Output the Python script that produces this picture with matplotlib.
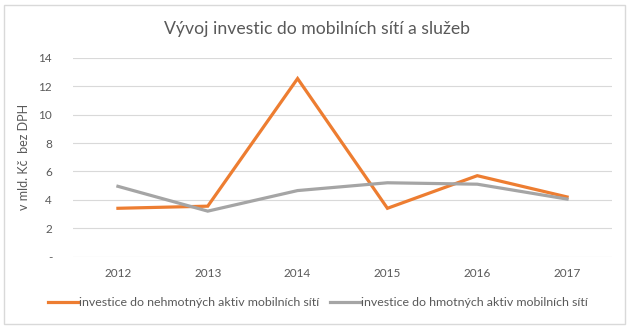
import matplotlib
matplotlib.use("Agg")
import matplotlib.pyplot as plt
from matplotlib.patches import Rectangle

years = ["2012", "2013", "2014", "2015", "2016", "2017"]
nehmotna = [3.4, 3.55, 12.55, 3.4, 5.7, 4.2]
hmotna = [4.95, 3.2, 4.65, 5.2, 5.1, 4.05]
yticks = [0, 2, 4, 6, 8, 10, 12, 14]
yticklabels = ["-", "2", "4", "6", "8", "10", "12", "14"]
title = "Vývoj investic do mobilních sítí a služeb"
ylabel = "v mld. Kč  bez DPH"
label_n = "investice do nehmotných aktiv mobilních sítí"
label_h = "investice do hmotných aktiv mobilních sítí"

plt.rcParams['font.family'] = ['Lato', 'DejaVu Sans']
txt = "#595959"

W, H = 630, 328
fig = plt.figure(figsize=(W/100, H/100), dpi=100)
fig.patches.append(Rectangle((4/W, 4/H), 1-9/W, 1-9/H, transform=fig.transFigure,
                             fill=False, edgecolor="#D9D9D9", linewidth=1))

ax = fig.add_axes([73/W, 1-256.5/H, (612-73)/W, (256.5-58)/H])
x = list(range(len(years)))
ax.plot(x, nehmotna, color="#ED7D31", linewidth=2.3, label=label_n, solid_joinstyle="miter")
ax.plot(x, hmotna, color="#A5A5A5", linewidth=2.3, label=label_h, solid_joinstyle="miter")
ax.set_xlim(-0.5, len(years)-0.5)
ax.set_ylim(0, 14)
ax.set_yticks(yticks)
ax.set_yticklabels(yticklabels)
ax.set_xticks(x)
ax.set_xticklabels(years)
ax.grid(axis='y', color="#D9D9D9", linewidth=0.8)
ax.set_axisbelow(True)
for s in ax.spines.values():
    s.set_visible(False)
ax.tick_params(length=0, colors=txt, labelsize=8.5)
ax.tick_params(axis='y', pad=15)
ax.tick_params(axis='x', pad=8)
ax.set_ylabel(ylabel, color=txt, fontsize=9, labelpad=6)
fig.text(0.5 + 2/W, 1-29/H, title, ha='center', va='center', fontsize=12.7, color=txt)
fig.legend(loc='center', bbox_to_anchor=(0.5 + 3/W, 1-303/H), ncol=2, frameon=False,
           fontsize=8.9, labelcolor=txt, handlelength=2.5, handletextpad=0.05,
           columnspacing=0.8)
fig.savefig("out.png", dpi=100)
